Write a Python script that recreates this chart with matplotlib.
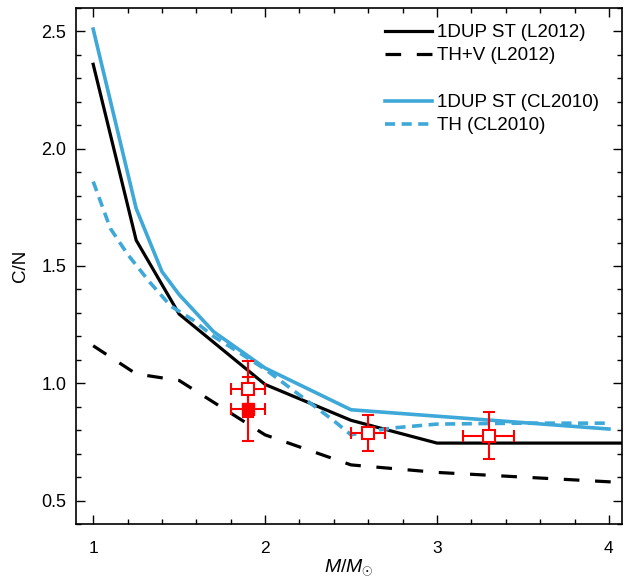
import matplotlib
matplotlib.use("Agg")
import matplotlib.pyplot as plt
from matplotlib.lines import Line2D
from matplotlib.ticker import MultipleLocator

plt.rcParams['font.family'] = ['Liberation Sans', 'DejaVu Sans']
plt.rcParams['mathtext.fontset'] = 'custom'
plt.rcParams['mathtext.rm'] = 'Liberation Sans'
plt.rcParams['mathtext.it'] = 'Liberation Sans:italic'

# 1DUP ST (L2012)
l12_st_m = [1.0, 1.25, 1.5, 2.0, 2.5, 3.0, 4.1]
l12_st_cn = [2.36, 1.61, 1.295, 0.995, 0.842, 0.745, 0.745]
# TH+V (L2012)
l12_thv_m = [1.0, 1.25, 1.5, 2.0, 2.5, 3.0, 4.05]
l12_thv_cn = [1.16, 1.04, 1.012, 0.78, 0.652, 0.62, 0.578]
# 1DUP ST (CL2010)
cl10_st_m = [1.0, 1.25, 1.4, 1.5, 1.7, 2.0, 2.5, 4.0]
cl10_st_cn = [2.51, 1.745, 1.476, 1.378, 1.22, 1.065, 0.887, 0.805]
# TH (CL2010)
cl10_th_m = [1.0, 1.1, 1.2, 1.33, 1.45, 1.58, 1.7, 1.83, 2.0, 2.2, 2.4, 2.5, 2.6, 2.75, 3.0, 3.5, 4.0]
cl10_th_cn = [1.86, 1.66, 1.55, 1.43, 1.33, 1.27, 1.20, 1.14, 1.06, 0.95, 0.84, 0.78, 0.795, 0.81, 0.826, 0.83, 0.83]

# observations
obs_open_m = [1.9, 2.6, 3.3]
obs_open_cn = [0.975, 0.788, 0.777]
obs_open_merr = [0.1, 0.1, 0.15]
obs_open_cnerr = [0.12, 0.078, 0.1]
obs_fill_m = [1.9]
obs_fill_cn = [0.89]
obs_fill_merr = [0.1]
obs_fill_cnerr = [0.135]

blue = '#3ea8d8'
red = '#ff0000'

fig = plt.figure(figsize=(6.26, 5.87), dpi=100)
ax = fig.add_axes([0.1214, 0.1073, 0.8722, 0.8791])

ax.plot(l12_st_m, l12_st_cn, color='black', lw=2.3, label='1DUP ST (L2012)')
ax.plot(l12_thv_m, l12_thv_cn, color='black', lw=2.3, dashes=(4.9, 4.9), label='TH+V (L2012)')
ax.plot(cl10_st_m, cl10_st_cn, color=blue, lw=2.6, label='1DUP ST (CL2010)')
ax.plot(cl10_th_m, cl10_th_cn, color=blue, lw=2.6, dashes=(2.8, 1.8), label='TH (CL2010)')

ax.errorbar(obs_fill_m, obs_fill_cn, xerr=obs_fill_merr, yerr=obs_fill_cnerr, fmt='s',
            color=red, mfc=red, mec=red, ms=8, elinewidth=1.5, capsize=4, capthick=1.5, zorder=5)
ax.errorbar(obs_open_m, obs_open_cn, xerr=obs_open_merr, yerr=obs_open_cnerr, fmt='s',
            color=red, mfc='white', mec=red, ms=8, mew=1.5, elinewidth=1.5, capsize=4, capthick=1.5, zorder=6)

ax.set_xlim(0.9, 4.076)
ax.set_ylim(0.4, 2.6)
ax.xaxis.set_major_locator(MultipleLocator(1))
ax.xaxis.set_minor_locator(MultipleLocator(0.2))
ax.yaxis.set_major_locator(MultipleLocator(0.5))
ax.yaxis.set_minor_locator(MultipleLocator(0.1))
ax.tick_params(which='both', direction='in', top=True, right=True, width=1.0)
ax.tick_params(which='major', length=6.5)
ax.tick_params(which='minor', length=3.5)
ax.tick_params(axis='x', which='major', labelsize=12.5, pad=12)
ax.tick_params(axis='y', which='major', labelsize=13, pad=7)
for s in ax.spines.values():
    s.set_linewidth(1.2)

ax.set_xlabel(r'$M/M_{\odot}$', fontsize=14, labelpad=1)
ax.set_ylabel('C/N', fontsize=13.5, labelpad=9)

h, l = ax.get_legend_handles_labels()
blank = Line2D([], [], color='none')
handles = [h[0], h[1], blank, h[2], h[3]]
labels = [l[0], l[1], ' ', l[2], l[3]]
ax.legend(handles, labels, loc='upper left', frameon=False, fontsize=13.5,
          handlelength=2.5, handletextpad=0.27, labelspacing=0.33,
          borderpad=0, borderaxespad=0,
          bbox_to_anchor=(385 / 626, 1 - 24 / 587), bbox_transform=fig.transFigure)

fig.savefig('out.png', dpi=100)
